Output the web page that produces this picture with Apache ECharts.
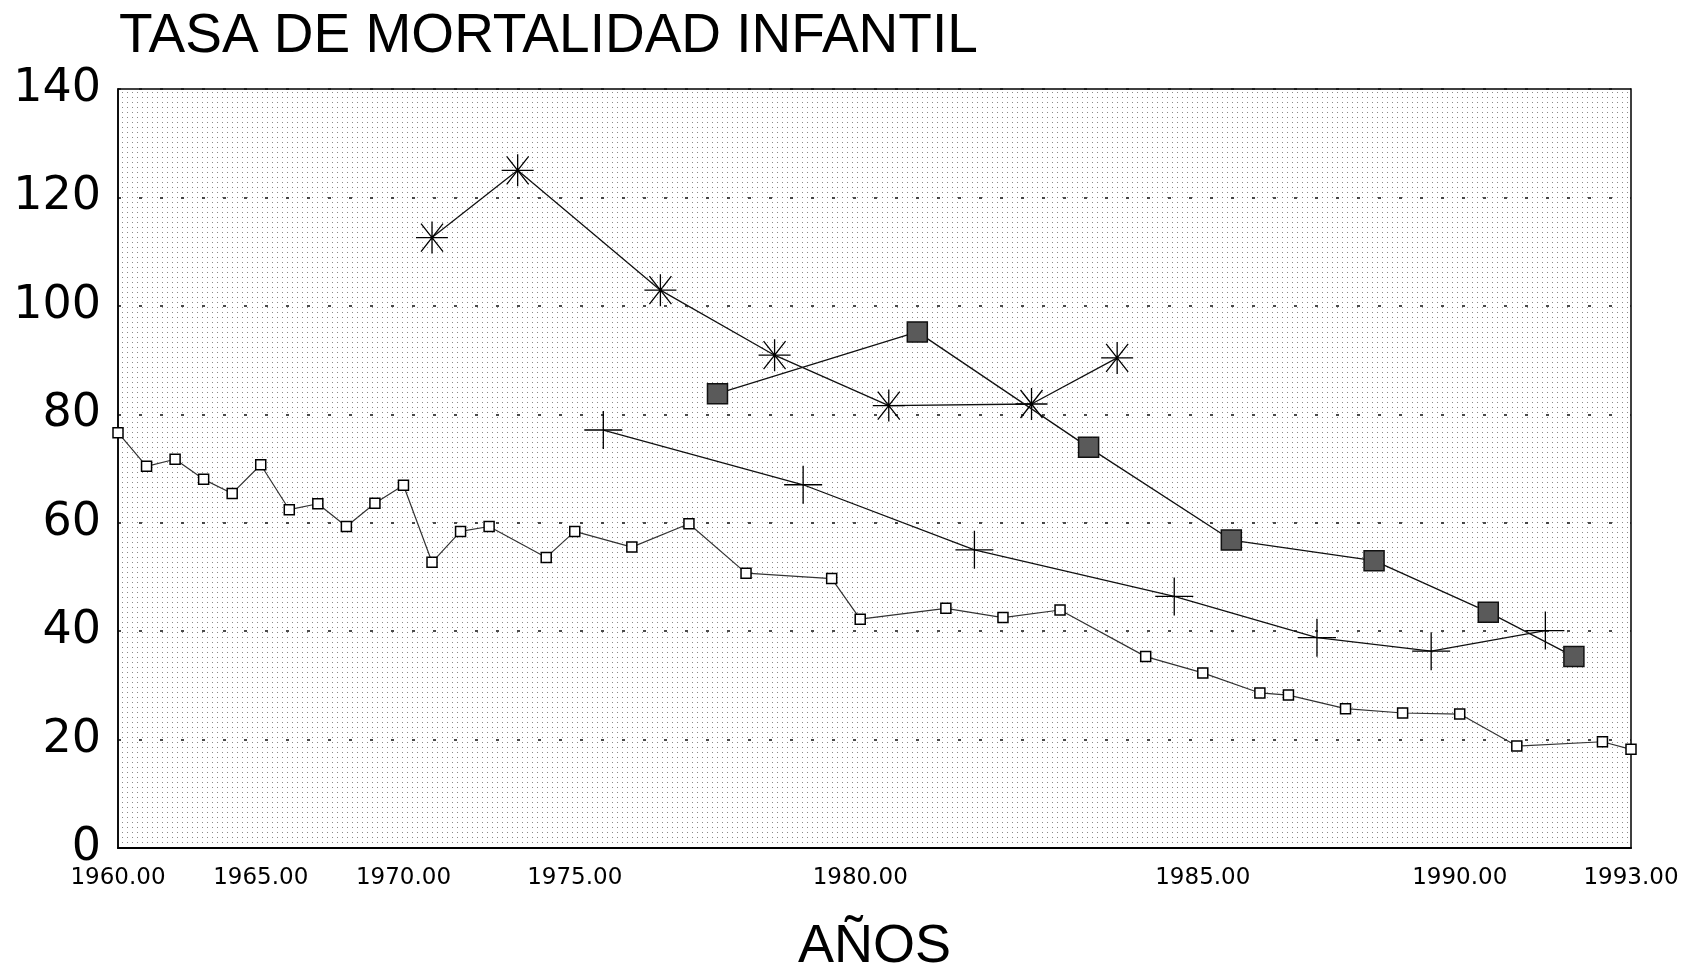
<!doctype html>
<html>
	<head>
		<meta charset="utf-8">
		<title>Tasa de mortalidad infantil</title>
		<script src="https://cdn.jsdelivr.net/npm/echarts@6/dist/echarts.min.js"></script>
		<style>
			html,body {
				margin: 0;
				width: 100%;
				height: 100%;
				background-color: #fff;
			}
			#container {
				width: 1701px;
				height: 969px;
			}
		</style>
	</head>
	<body>
		<div id="container"></div>
		<script type="text/javascript">
			// x positions are slots along the axis (0 = 1960.00, 53 = 1993.00)
			var labelSlots = [0, 5, 10, 16, 26, 38, 47, 53];
			var tickLabels = ['1960.00', '1965.00', '1970.00', '1975.00', '1980.00', '1985.00', '1990.00', '1993.00'];

			// open squares
			var squareSlots = [0, 1, 2, 3, 4, 5, 6, 7, 8, 9, 10, 11, 12, 13, 15, 16, 18, 20, 22, 25, 26, 29, 31, 33, 36, 38, 40, 41, 43, 45, 47, 49, 52, 53];
			var squareValues = [76.6, 70.4, 71.7, 68, 65.4, 70.7, 62.4, 63.5, 59.3, 63.6, 66.9, 52.7, 58.4, 59.3, 53.6, 58.4, 55.5, 59.8, 50.7, 49.7, 42.2, 44.2, 42.5, 43.9, 35.3, 32.3, 28.6, 28.2, 25.7, 24.9, 24.7, 18.8, 19.6, 18.2];

			// asterisks
			var starSlots = [11, 14, 19, 23, 27, 32, 35];
			var starValues = [112.6, 125, 102.9, 90.9, 81.6, 81.9, 90.4];

			// filled squares
			var filledSlots = [21, 28, 34, 39, 44, 48, 51];
			var filledValues = [83.8, 95.2, 73.9, 56.8, 53, 43.5, 35.3];

			// crosses
			var crossSlots = [17, 24, 30, 37, 42, 46, 50];
			var crossValues = [77.1, 67, 55, 46.4, 38.8, 36.3, 40.1];

			function pairs(xs, ys) {
				return xs.map(function(x, i) { return [x, ys[i]]; });
			}

			// stippled background like the printed halftone
			var dots = document.createElement('canvas');
			dots.width = 5;
			dots.height = 5;
			var ctx = dots.getContext('2d');
			ctx.fillStyle = '#8a8a8a';
			ctx.fillRect(2, 2, 1, 1);

			var dom = document.getElementById('container');
			var myChart = echarts.init(dom);

			var option = {
				animation: false,
				backgroundColor: '#fff',
				title: {
					text: 'TASA DE MORTALIDAD INFANTIL',
					left: 114,
					top: 4,
					textStyle: {
						fontFamily: 'Liberation Sans',
						fontWeight: 'normal',
						fontSize: 55,
						color: '#000'
					}
				},
				grid: {
					left: 118,
					right: 70,
					top: 89,
					bottom: 121,
					outerBoundsMode: 'none',
					containLabel: false,
					show: true,
					backgroundColor: { image: dots, repeat: 'repeat' },
					borderColor: '#000',
					borderWidth: 1.5
				},
				xAxis: {
					type: 'value',
					min: 0,
					max: 53,
					interval: 1,
					name: 'AÑOS',
					nameLocation: 'middle',
					nameGap: 72,
					nameTextStyle: {
						fontFamily: 'Liberation Sans',
						fontSize: 54,
						color: '#000'
					},
					axisLine: { show: true, onZero: false, lineStyle: { color: '#000', width: 2 } },
					axisTick: { show: false },
					splitLine: { show: false },
					axisLabel: {
						margin: 19,
						fontFamily: 'DejaVu Sans',
						fontSize: 23,
						color: '#000',
						showMinLabel: true,
						showMaxLabel: true,
						formatter: function(v) {
							var i = labelSlots.indexOf(v);
							return i >= 0 ? tickLabels[i] : '';
						}
					}
				},
				yAxis: {
					type: 'value',
					min: 0,
					max: 140,
					interval: 20,
					axisLine: { show: true, lineStyle: { color: '#000', width: 1.5 } },
					axisTick: { show: false },
					axisLabel: {
						margin: 17,
						fontFamily: 'DejaVu Sans',
						fontSize: 46,
						color: '#000'
					},
					splitLine: {
						show: true,
						lineStyle: { color: '#111', width: 1.5, type: [3, 18] }
					}
				},
				series: [{
					name: 'open',
					type: 'line',
					data: pairs(squareSlots, squareValues),
					symbol: 'rect',
					symbolSize: 10,
					itemStyle: { color: '#fff', borderColor: '#000', borderWidth: 1.5 },
					lineStyle: { color: '#333', width: 1.2 },
					z: 3
				}, {
					name: 'star',
					type: 'line',
					data: pairs(starSlots, starValues),
					symbol: 'path://M16,0 L16,32 M0,16 L32,16 M5,2 L27,30 M27,2 L5,30',
					symbolSize: [32, 32],
					itemStyle: { color: '#000', borderColor: '#000', borderWidth: 1.3 },
					lineStyle: { color: '#111', width: 1.3 },
					z: 4
				}, {
					name: 'filled',
					type: 'line',
					data: pairs(filledSlots, filledValues),
					symbol: 'rect',
					symbolSize: 20,
					itemStyle: { color: '#5a5a5a', borderColor: '#111', borderWidth: 1.5 },
					lineStyle: { color: '#111', width: 1.3 },
					z: 5
				}, {
					name: 'cross',
					type: 'line',
					data: pairs(crossSlots, crossValues),
					symbol: 'path://M0,19 L38,19 M19,0 L19,38',
					symbolSize: [38, 38],
					itemStyle: { color: '#000', borderColor: '#000', borderWidth: 1.3 },
					lineStyle: { color: '#111', width: 1.3 },
					z: 4
				}]
			};

			myChart.setOption(option, true);
		</script>
	</body>
</html>
